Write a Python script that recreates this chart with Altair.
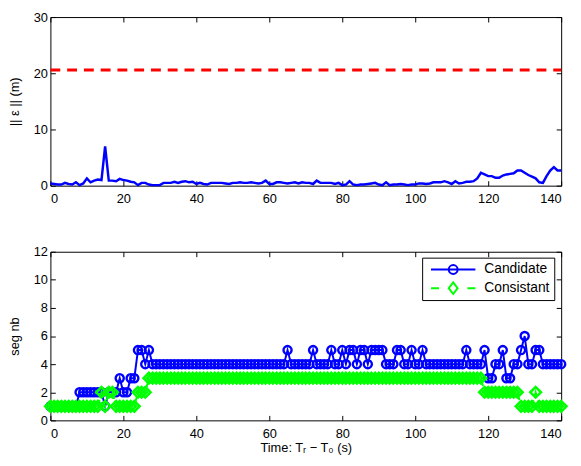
import altair as alt
import pandas as pd

# time axis, one sample per second
time_s = list(range(0, 141))

# ||eps|| (m), upper panel
error_norm = [
    0.4, 0.3, 0.2, 0.2, 0.5, 0.3, 0.2, 0.6, 0.1, 0.4,
    1.3, 0.6, 0.9, 1.1, 1.0, 7.0, 0.9, 0.9, 0.8, 1.2,
    1.0, 0.9, 0.7, 0.6, 0.1, 0.5, 0.5, 0.2, 0.1, 0.1,
    0.1, 0.5, 0.5, 0.5, 0.7, 0.5, 0.7, 0.8, 0.6, 0.7,
    0.3, 0.5, 0.3, 0.2, 0.5, 0.5, 0.5, 0.5, 0.4, 0.3,
    0.5, 0.5, 0.6, 0.5, 0.5, 0.6, 0.5, 0.4, 0.5, 0.9,
    0.3, 0.3, 0.6, 0.6, 0.5, 0.4, 0.5, 0.6, 0.4, 0.6,
    0.5, 0.5, 0.3, 0.9, 0.5, 0.5, 0.5, 0.5, 0.3, 0.5,
    0.1, 0.2, 0.8, 0.2, 0.1, 0.2, 0.2, 0.3, 0.4, 0.5,
    0.2, 0.1, 0.6, 0.1, 0.2, 0.2, 0.3, 0.2, 0.1, 0.2,
    0.2, 0.4, 0.4, 0.3, 0.4, 0.6, 0.6, 0.6, 0.8, 0.6,
    0.3, 0.8, 0.4, 0.5, 0.7, 0.7, 0.8, 1.3, 2.3, 2.0,
    1.7, 1.7, 1.4, 1.4, 1.8, 2.0, 2.1, 2.2, 2.7, 2.7,
    2.3, 1.9, 1.6, 1.3, 0.6, 0.5, 1.7, 2.7, 3.3, 2.7,
    2.7,
]
threshold = 20.6

# segment counts, lower panel
candidate = [
    1, 1, 1, 1, 1, 1, 1, 1, 2, 2,
    2, 2, 2, 2, 2, 1, 2, 2, 2, 3,
    2, 2, 3, 3, 5, 5, 4, 5, 4, 4,
    4, 4, 4, 4, 4, 4, 4, 4, 4, 4,
    4, 4, 4, 4, 4, 4, 4, 4, 4, 4,
    4, 4, 4, 4, 4, 4, 4, 4, 4, 4,
    4, 4, 4, 4, 4, 5, 4, 4, 4, 4,
    4, 4, 5, 4, 4, 4, 4, 5, 4, 4,
    5, 4, 5, 5, 4, 5, 5, 4, 5, 5,
    5, 5, 4, 4, 4, 5, 5, 4, 4, 5,
    4, 4, 5, 4, 4, 4, 4, 4, 4, 4,
    4, 4, 4, 4, 5, 4, 4, 4, 4, 5,
    3, 3, 4, 4, 5, 3, 3, 4, 4, 5,
    6, 4, 4, 5, 5, 4, 4, 4, 4, 4,
    4,
]
consistant = [
    1, 1, 1, 1, 1, 1, 1, 1, 1, 1,
    1, 1, 1, 1, 2, 1, 2, 2, 1, 1,
    1, 1, 1, 1, 2, 2, 2, 3, 3, 3,
    3, 3, 3, 3, 3, 3, 3, 3, 3, 3,
    3, 3, 3, 3, 3, 3, 3, 3, 3, 3,
    3, 3, 3, 3, 3, 3, 3, 3, 3, 3,
    3, 3, 3, 3, 3, 3, 3, 3, 3, 3,
    3, 3, 3, 3, 3, 3, 3, 3, 3, 3,
    3, 3, 3, 3, 3, 3, 3, 3, 3, 3,
    3, 3, 3, 3, 3, 3, 3, 3, 3, 3,
    3, 3, 3, 3, 3, 3, 3, 3, 3, 3,
    3, 3, 3, 3, 3, 3, 3, 3, 3, 2,
    2, 2, 2, 2, 2, 2, 2, 2, 2, 1,
    1, 1, 1, 2, 1, 1, 1, 1, 1, 1,
    1,
]
series_names = ["Candidate", "Consistant"]

x_ticks = [0, 20, 40, 60, 80, 100, 120, 140]
y_ticks_top = [0, 10, 20, 30]
y_ticks_bottom = [0, 2, 4, 6, 8, 10, 12]

FONT = "Liberation Sans"
BLUE = "#0000ff"
GREEN = "#00ff00"
RED = "#ff0000"
W, H = 518, 171

x_scale = alt.Scale(domain=[0, 140], nice=False)
scale_top = alt.Scale(domain=[0, 30], nice=False)
scale_bottom = alt.Scale(domain=[0, 12], nice=False)


def main_axes(field_x, field_y, y_scale, y_ticks, y_title, x_title=None):
    # bottom/left axes with labels, ticks pointing into the plot
    x = alt.X(
        field_x, scale=x_scale,
        axis=alt.Axis(values=x_ticks, title=x_title, offset=-5, tickSize=5,
                      domain=False, grid=False, labelPadding=7, titlePadding=2),
    )
    y = alt.Y(
        field_y, scale=y_scale,
        axis=alt.Axis(values=y_ticks, title=y_title, offset=-5, tickSize=5,
                      domain=False, grid=False, labelPadding=3, titlePadding=12),
    )
    return x, y


def box_axes(field_x, field_y, y_scale, y_ticks):
    # top/right axes: inner ticks only
    x = alt.X(
        field_x, scale=x_scale,
        axis=alt.Axis(orient="top", values=x_ticks, title=None, offset=-5, tickSize=5,
                      domain=False, grid=False, labels=False),
    )
    y = alt.Y(
        field_y, scale=y_scale,
        axis=alt.Axis(orient="right", values=y_ticks, title=None, offset=-5, tickSize=5,
                      domain=False, grid=False, labels=False),
    )
    return x, y


# ---- upper panel ----
top_df = pd.DataFrame({"t": time_s, "err": error_norm})
thr_df = pd.DataFrame({"t": [time_s[0], time_s[-1]], "thr": [threshold, threshold]})

tx, ty = main_axes("t:Q", "err:Q", scale_top, y_ticks_top, "|| ε || (m)")
err_line = alt.Chart(top_df).mark_line(color=BLUE, strokeWidth=2.5).encode(x=tx, y=ty)

bx, by = box_axes("t:Q", "thr:Q", scale_top, y_ticks_top)
thr_line = alt.Chart(thr_df).mark_line(color=RED, strokeWidth=3, strokeDash=[10, 7]).encode(x=bx, y=by)

top = alt.layer(err_line, thr_line).resolve_axis(x="independent", y="independent").properties(width=W, height=H)

# ---- lower panel ----
seg_df = pd.DataFrame({"t": time_s, "Candidate": candidate, "Consistant": consistant})

mx, my = main_axes("t:Q", "Candidate:Q", scale_bottom, y_ticks_bottom, "seg nb", "Time: Tᵣ − T₀ (s)")
cand_line = alt.Chart(seg_df).mark_line(color=BLUE, strokeWidth=2).encode(x=mx, y=my)

no_x = alt.X("t:Q", scale=x_scale, axis=None)
cand_pts = alt.Chart(seg_df).mark_point(
    shape="circle", filled=False, color=BLUE, size=68, strokeWidth=2.4, opacity=1
).encode(x=no_x, y=alt.Y("Candidate:Q", scale=scale_bottom, axis=None))

cons_line = alt.Chart(seg_df).mark_line(color=GREEN, strokeWidth=2, strokeDash=[7, 5]).encode(
    x=no_x, y=alt.Y("Consistant:Q", scale=scale_bottom, axis=None)
)

cx, cy = box_axes("t:Q", "Consistant:Q", scale_bottom, y_ticks_bottom)
cons_pts = alt.Chart(seg_df).mark_point(
    shape="diamond", filled=False, color=GREEN, size=115, strokeWidth=2.6, opacity=1
).encode(x=cx, y=cy)

# legend: line + marker symbols as custom paths
cand_symbol = "M-1,0L1,0M0.2,0A0.2,0.2,0,1,1,-0.2,0A0.2,0.2,0,1,1,0.2,0"
cons_symbol = "M-1,0L-0.64,0M0.64,0L1,0M0,-0.26L0.2,0L0,0.26L-0.2,0Z"
seg_legend = alt.Legend(
    title=None, orient="none", legendX=377, legendY=6,
    fillColor="white", strokeColor="black", padding=4,
    symbolSize=2025, symbolStrokeWidth=2, clipHeight=16, rowPadding=3,
    symbolOffset=4, labelOffset=8, labelFont=FONT, labelFontSize=14, labelColor="black",
)
legend_layer = (
    alt.Chart(pd.DataFrame({"series": series_names}))
    .transform_filter("false")
    .mark_point(filled=False, strokeWidth=2, opacity=1)
    .encode(
        color=alt.Color("series:N", scale=alt.Scale(domain=series_names, range=[BLUE, GREEN]), legend=seg_legend),
        shape=alt.Shape("series:N", scale=alt.Scale(domain=series_names, range=[cand_symbol, cons_symbol]), legend=seg_legend),
    )
)

bottom = (
    alt.layer(cand_line, cand_pts, cons_line, cons_pts, legend_layer)
    .resolve_axis(x="independent", y="independent")
    .properties(width=W, height=H)
)

chart = (
    alt.vconcat(top, bottom, spacing=39)
    .resolve_scale(color="independent", shape="independent")
    .properties(padding={"left": 0, "top": -1, "right": 0, "bottom": 0})
    .configure_view(stroke="black", strokeWidth=1)
    .configure_axis(
        labelFont=FONT, labelFontSize=13, labelColor="black",
        titleFont=FONT, titleFontSize=13, titleFontWeight="normal", titleColor="black",
        tickColor="black", tickWidth=1,
    )
)

chart.save("out.html", embed_options={"renderer": "svg", "actions": False})
